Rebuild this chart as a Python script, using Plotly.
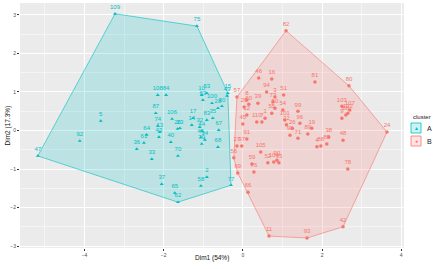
import plotly.graph_objects as go

# ---------------- data ----------------
a_labels = ["109", "75", "5", "92", "47", "36", "61", "64", "33", "70", "40", "37", "65", "62",
            "58", "2", "77", "68", "79", "41", "34", "43", "108", "84", "87", "74", "13", "10",
            "53", "63", "100", "28", "30", "15", "49", "106", "17", "83", "35", "23", "26",
            "14", "32", "44", "67"]
a_x = [-3.23, -1.16, -3.59, -4.12, -5.18, -2.68, -2.50, -2.43, -2.30, -1.64, -1.82, -2.05, -1.72, -1.64,
       -1.06, -0.91, -0.30, -0.63, -1.04, -1.06, -0.96, -2.12, -2.15, -1.94, -2.20, -2.15, -2.10, -1.04,
       -0.91, -1.01, -0.78, -0.63, -0.53, -0.38, -0.40, -1.79, -1.26, -0.91, -0.76, -1.59, -1.65,
       -1.29, -1.09, -1.04, -0.61]
a_y = [3.03, 2.71, 0.25, -0.27, -0.66, -0.48, -0.32, -0.11, -0.74, -0.66, -0.30, -1.39, -1.62, -1.86,
       -1.44, -1.21, -1.42, -0.43, -0.35, -0.18, -0.24, -0.17, 0.92, 0.92, 0.45, 0.12, -0.04, 0.92,
       0.97, 0.79, 0.71, 0.58, 0.63, 0.97, 0.90, 0.30, 0.32, 0.27, 0.32, 0.06, 0.04,
       0.14, 0.09, -0.01, 0.01]

b_labels = ["82", "46", "16", "94", "51", "3", "57", "8", "39", "29", "60", "73", "50", "55", "99",
            "54", "12", "110", "7", "1", "101", "96", "45", "91", "27", "97", "56", "69", "105",
            "59", "76", "52", "104", "90", "95", "66", "11", "93", "42", "24", "80", "81", "103",
            "107", "102", "88", "9", "19", "48", "38", "85", "86", "4", "78", "89", "71", "98",
            "26", "22"]
b_x = [1.09, 0.40, 0.73, 0.60, 1.03, 0.81, -0.15, 0.10, 0.38, 0.03, 0.15, 0.76, 0.81, 0.73, 1.39,
       1.01, 0.10, 0.35, 0.48, 0.56, 1.06, 1.44, 0.00, 0.10, -0.15, -0.03, -0.23, -0.13, 0.45,
       0.23, 0.28, 0.63, 0.78, 0.86, 0.91, 0.13, 0.66, 1.62, 2.53, 3.64, 2.68, 1.82, 2.50,
       2.70, 2.65, 2.60, 2.50, 1.74, 2.53, 2.17, 2.12, 1.97, 1.87, 2.65, 1.64, 1.39, 1.19,
       1.25, 1.10]
b_y = [2.59, 1.36, 1.34, 1.00, 0.92, 0.87, 0.87, 0.79, 0.71, 0.61, 0.68, 0.74, 0.58, 0.45, 0.50,
       0.53, 0.40, 0.22, 0.22, 0.32, 0.27, 0.19, 0.17, -0.22, -0.40, -0.40, -0.71, -1.10, -0.56,
       -0.87, -1.08, -0.84, -0.82, -0.77, -0.84, -1.60, -2.74, -2.79, -2.50, -0.04, 1.16, 1.26, 0.63,
       0.53, 0.45, 0.40, 0.32, 0.06, -0.25, -0.17, -0.35, -0.40, -0.42, -1.00, -0.09, -0.20, -0.12,
       0.05, 0.15]

cluster_names = ["A", "B"]
cluster_colors = ["#00BFC4", "#F8766D"]
cluster_fills = ["rgba(0,191,196,0.2)", "rgba(248,118,109,0.2)"]
cluster_symbols = ["triangle-up", "circle"]


def hull(xs, ys):
    pts = sorted(set(zip(xs, ys)))

    def cross(o, a, b):
        return (a[0] - o[0]) * (b[1] - o[1]) - (a[1] - o[1]) * (b[0] - o[0])
    lower, upper = [], []
    for p in pts:
        while len(lower) >= 2 and cross(lower[-2], lower[-1], p) <= 0:
            lower.pop()
        lower.append(p)
    for p in reversed(pts):
        while len(upper) >= 2 and cross(upper[-2], upper[-1], p) <= 0:
            upper.pop()
        upper.append(p)
    h = lower[:-1] + upper[:-1]
    h.append(h[0])
    return [p[0] for p in h], [p[1] for p in h]


fig = go.Figure()
groups = [(a_labels, a_x, a_y), (b_labels, b_x, b_y)]
for i, (lab, xs, ys) in enumerate(groups):
    hx, hy = hull(xs, ys)
    fig.add_trace(go.Scatter(x=hx, y=hy, mode="lines", fill="toself",
                             fillcolor=cluster_fills[i],
                             line=dict(color=cluster_colors[i], width=0.6),
                             hoverinfo="skip", showlegend=False))
for i, (lab, xs, ys) in enumerate(groups):
    fig.add_trace(go.Scatter(x=xs, y=ys, mode="markers+text", text=lab,
                             textposition="top center",
                             textfont=dict(size=6, color=cluster_colors[i], family="Liberation Sans"),
                             marker=dict(symbol=cluster_symbols[i], size=3.5, color=cluster_colors[i]),
                             name=cluster_names[i], showlegend=False))

# manual legend (ggplot style)
L, R, T, B = 20, 404, 3, 248
W, H = R - L, B - T


def px(x):
    return (x - L) / W


def py(y):
    return (B - y) / H


shapes = []
annots = [dict(text="cluster", x=px(411), y=py(117), xref="paper", yref="paper",
               xanchor="left", yanchor="middle", showarrow=False,
               font=dict(size=6, color="#222", family="Liberation Sans")),
          dict(text="Dim1 (54%)", x=0.5, y=py(258), xref="paper", yref="paper",
               xanchor="center", yanchor="middle", showarrow=False,
               font=dict(size=6.5, color="#111", family="Liberation Sans")),
          dict(text="Dim2 (17.3%)", x=px(7), y=0.5, xref="paper", yref="paper",
               xanchor="center", yanchor="middle", showarrow=False, textangle=-90,
               font=dict(size=6.5, color="#111", family="Liberation Sans"))]
for i, (cy, sym) in enumerate([(128, "▲"), (141, "●")]):
    shapes.append(dict(type="rect", xref="paper", yref="paper",
                       x0=px(411), x1=px(421), y0=py(cy - 5), y1=py(cy + 5),
                       fillcolor=cluster_fills[i], line=dict(color=cluster_colors[i], width=0.8)))
    annots.append(dict(text=sym, x=px(416), y=py(cy), xref="paper", yref="paper",
                       xanchor="center", yanchor="middle", showarrow=False,
                       font=dict(size=5, color=cluster_colors[i])))
    annots.append(dict(text=cluster_names[i], x=px(425), y=py(cy), xref="paper", yref="paper",
                       xanchor="left", yanchor="middle", showarrow=False,
                       font=dict(size=7, color="#222", family="Liberation Sans")))

axis_common = dict(showgrid=True, gridcolor="white", gridwidth=1, zeroline=False,
                   ticks="outside", ticklen=2, tickcolor="#333", tickwidth=0.6,
                   tickfont=dict(size=5, color="#4D4D4D", family="Liberation Sans"),
                   showline=False, automargin=False)

fig.update_layout(
    width=444, height=269,
    margin=dict(l=L, r=444 - R, t=T, b=269 - B, autoexpand=False),
    paper_bgcolor="white", plot_bgcolor="#EBEBEB",
    shapes=shapes, annotations=annots, showlegend=False,
    xaxis=dict(range=[-5.63, 4.07], dtick=2, tick0=0,
               minor=dict(dtick=1, tick0=0, showgrid=True, gridcolor="#F5F5F5", gridwidth=0.5, ticks=""),
               **axis_common),
    yaxis=dict(range=[-3.05, 3.31], dtick=1, tick0=0,
               minor=dict(dtick=0.5, tick0=0, showgrid=True, gridcolor="#F5F5F5", gridwidth=0.5, ticks=""),
               **axis_common),
)

fig.write_html("out.html", config={"displayModeBar": False},
               post_script="document.body.style.margin='0';document.body.style.overflow='hidden';")
